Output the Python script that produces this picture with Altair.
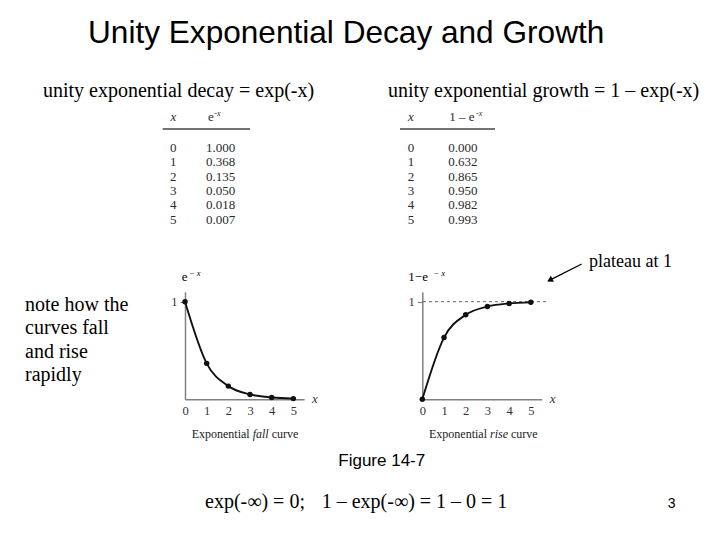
import altair as alt
import pandas as pd

# ---------------- data ----------------
xs = [0, 1, 2, 3, 4, 5]
decay = [1.000, 0.368, 0.135, 0.050, 0.018, 0.007]
growth = [0.000, 0.632, 0.865, 0.950, 0.982, 0.993]
decay_labels = ["1.000", "0.368", "0.135", "0.050", "0.018", "0.007"]
growth_labels = ["0.000", "0.632", "0.865", "0.950", "0.982", "0.993"]
x_ticks = [0, 1, 2, 3, 4, 5]
y_ticks = [1]
plateau = [1]

title_text = "Unity Exponential Decay and Growth"
sub_left = "unity exponential decay = exp(-x)"
sub_right = "unity exponential growth = 1 \u2013 exp(-x)"
note_lines = ["note how the", "curves fall", "and rise", "rapidly"]
plateau_text = "plateau at 1"
figure_text = "Figure 14-7"
formula_a = "exp(-\u221e) = 0;"
formula_b = "1 \u2013 exp(-\u221e) = 1 \u2013 0 = 1"
page_no = "3"

SERIF = "Liberation Serif"
SANS = "Liberation Sans"
AXIS_GRAY = "#808080"
INK = "#111111"


def txt(s, x, y, size, font=SERIF, style="normal", align="left", color="black",
        baseline="alphabetic"):
    return alt.Chart(pd.DataFrame({"t": [s]})).mark_text(
        font=font, fontSize=size, fontStyle=style, align=align,
        baseline=baseline, color=color
    ).encode(x=alt.value(x), y=alt.value(y), text="t:N")


def hrule(x1, x2, y, color="#444444", width=1.3):
    return alt.Chart(pd.DataFrame({"a": [0]})).mark_rule(color=color, strokeWidth=width).encode(
        x=alt.value(x1), x2=alt.value(x2), y=alt.value(y))


layers = []

# title & subtitles
layers.append(txt(title_text, 80, 35.3, 31.6, font=SANS))
layers.append(txt(sub_left, 35, 88.5, 20))
layers.append(txt(sub_right, 380, 88.5, 20))

# ---------------- tables ----------------
tab = pd.DataFrame({"x": xs, "d": decay_labels, "g": growth_labels})
row_y = alt.Y("x:Q", scale=alt.Scale(domain=[0, 5], range=[143.7, 215.7]), axis=None)
TC = "#2a2a2a"
TS = 13
for idx_x, val_x, col in [(165.3, 198, "d"), (403, 440.3, "g")]:
    layers.append(alt.Chart(tab).mark_text(font=SERIF, fontSize=TS, align="center",
                                           baseline="alphabetic", color=TC)
                  .encode(x=alt.value(idx_x), y=row_y, text="x:N"))
    layers.append(alt.Chart(tab).mark_text(font=SERIF, fontSize=TS, align="left",
                                           baseline="alphabetic", color=TC)
                  .encode(x=alt.value(val_x), y=row_y, text=f"{col}:N"))

# headers
layers.append(txt("x", 165.3, 112.7, TS, style="italic", align="center", color=TC))
layers.append(txt("e", 200, 112.7, TS, color=TC))
layers.append(txt("-x", 206.3, 108, 8, style="italic", color=TC))
layers.append(txt("x", 403, 112.7, TS, style="italic", align="center", color=TC))
layers.append(txt("1 \u2013 e", 441.3, 112.7, TS, color=TC))
layers.append(txt("-x", 468, 108, 8, style="italic", color=TC))
layers.append(hrule(154.7, 242, 121))
layers.append(hrule(392, 487, 121))

# ---------------- note ----------------
for line, yb in zip(note_lines, [302.7, 326.1, 349.5, 373.0]):
    layers.append(txt(line, 17, yb, 20))


# ---------------- charts ----------------
def curve_chart(vals, x0, x_unit):
    df = pd.DataFrame({"x": xs, "y": vals})
    xscale = alt.Scale(domain=[0, 5.5], range=[x0, x0 + 5.5 * x_unit], nice=False, zero=False)
    yscale = alt.Scale(domain=[0, 1.1], range=[391.3, 283.9], nice=False, zero=False)
    xaxis = alt.Axis(orient="bottom", offset=-132.7, values=x_ticks, ticks=False,
                     grid=False, title=None, domainColor=AXIS_GRAY, domainWidth=1.5,
                     labelFont=SERIF, labelFontSize=12.5, labelColor="#333333",
                     labelPadding=5, format="d", labelFlush=False, labelOverlap=False)
    yaxis = alt.Axis(orient="left", offset=-x0, values=y_ticks, tickSize=5,
                     tickColor=AXIS_GRAY, tickWidth=1.2, grid=False, title=None,
                     domainColor=AXIS_GRAY, domainWidth=1.5, labelFont=SERIF,
                     labelFontSize=12.5, labelColor="#333333", labelPadding=3,
                     format="d", labelFlush=False, labelOverlap=False)
    line = alt.Chart(df).mark_line(interpolate="monotone", color=INK, strokeWidth=1.9).encode(
        x=alt.X("x:Q", scale=xscale, axis=xaxis),
        y=alt.Y("y:Q", scale=yscale, axis=yaxis))
    pts = alt.Chart(df).mark_circle(color=INK, size=30, opacity=1).encode(
        x=alt.X("x:Q", scale=xscale, axis=None),
        y=alt.Y("y:Q", scale=yscale, axis=None))
    return line, pts, xscale, yscale


l_line, l_pts, _, _ = curve_chart(decay, 177, 21.67)
r_line, r_pts, r_xs, r_ys = curve_chart(growth, 414.3, 21.71)

# dashed plateau line on the growth chart
layers.append(alt.Chart(pd.DataFrame({"y": plateau})).mark_rule(
    color="#666666", strokeDash=[3, 3], strokeWidth=1).encode(
    x=alt.value(415), x2=alt.value(538),
    y=alt.Y("y:Q", scale=r_ys, axis=None)))

layers += [l_line, l_pts, r_line, r_pts]

# axis titles
layers.append(txt("e", 173.7, 273, 13))
layers.append(txt("\u2212 x", 181, 268, 8.5, style="italic"))
layers.append(txt("x", 307, 395, 13, style="italic", align="center", color="#333333"))
layers.append(txt("1\u2212e", 400.3, 273, 13))
layers.append(txt("\u2212 x", 425.5, 268, 8.5, style="italic"))
layers.append(txt("x", 544.7, 395, 13, style="italic", align="center", color="#333333"))

# captions
CAP = 12
layers.append(txt("Exponential", 183.7, 430, CAP, color="#222222"))
layers.append(txt("fall", 244.7, 430, CAP, style="italic", color="#222222"))
layers.append(txt("curve", 263.7, 430, CAP, color="#222222"))
layers.append(txt("Exponential", 421, 430, CAP, color="#222222"))
layers.append(txt("rise", 482, 430, CAP, style="italic", color="#222222"))
layers.append(txt("curve", 503, 430, CAP, color="#222222"))

# plateau annotation + arrow
layers.append(txt(plateau_text, 581, 259, 18))
layers.append(alt.Chart(pd.DataFrame({"a": [0]})).mark_rule(color="black", strokeWidth=1.3).encode(
    x=alt.value(573.7), y=alt.value(256), x2=alt.value(541.8), y2=alt.value(272.1)))
layers.append(alt.Chart(pd.DataFrame({"a": [0]})).mark_point(
    shape="triangle-up", filled=True, size=45, angle=243, color="black", opacity=1).encode(
    x=alt.value(541.8), y=alt.value(272.1)))

# bottom texts
layers.append(txt(figure_text, 330.3, 457.7, 17, font=SANS))
layers.append(txt(formula_a, 197, 500, 20))
layers.append(txt(formula_b, 313.7, 500, 20))
layers.append(txt(page_no, 663.7, 500, 14, font=SANS, align="center"))

chart = alt.layer(*layers).resolve_scale(
    x="independent", y="independent"
).resolve_axis(
    x="independent", y="independent"
).properties(
    width=704, height=524, padding=0,
    autosize=alt.AutoSizeParams(type="none"),
    background="white",
).configure_view(stroke=None)

chart.save("out.html", embed_options={"renderer": "svg", "actions": False})
